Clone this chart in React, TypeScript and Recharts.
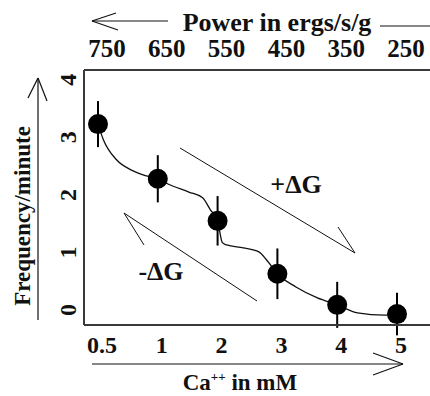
import { ComposedChart, Line, Scatter, ErrorBar, XAxis, YAxis } from 'recharts';

const calcium = ['0.5', '1', '2', '3', '4', '5'];
const power = ['750', '650', '550', '450', '350', '250'];
const frequency = [3.23, 2.28, 1.55, 0.63, 0.09, -0.07];
const frequencyErr = [0.4, 0.41, 0.43, 0.44, 0.4, 0.37];
const yTicks = [0, 1, 2, 3, 4];

// hand drawn curve through the points (x in category index units)
const curveX = [0, 0.09, 0.31, 0.56, 0.81, 1, 1.17, 1.52, 1.75, 1.88, 2, 2.08, 2.15, 2.43, 2.69, 2.82, 3, 3.31, 3.67, 4, 4.34, 4.79, 5];
const curveY = [3.23, 2.96, 2.61, 2.43, 2.33, 2.28, 2.19, 2.05, 1.95, 1.74, 1.55, 1.17, 1.13, 1.08, 1.01, 0.87, 0.63, 0.4, 0.21, 0.09, -0.05, -0.09, -0.07];

const points = calcium.map((_, i) => ({ x: i, y: frequency[i], err: frequencyErr[i] }));
const curve = curveX.map((x, i) => ({ x, y: curveY[i] }));

const FONT = '"Liberation Serif", "Times New Roman", serif';
const INK = '#111';
const AXIS = '#3a3a3a';

const BottomTick = ({ x, payload }: any) => (
  <text x={x + 4} y={353} textAnchor="middle" fontFamily={FONT} fontWeight="bold" fontSize={24} fill={INK}>
    {calcium[payload.value]}
  </text>
);

const TopTick = ({ x, payload }: any) => (
  <text x={x + 9} y={57} textAnchor="middle" fontFamily={FONT} fontWeight="bold" fontSize={25} fill={INK}>
    {power[payload.value]}
  </text>
);

const LeftTick = ({ y, payload }: any) => (
  <text
    x={76}
    y={y}
    transform={`rotate(-90, 76, ${y})`}
    textAnchor="middle"
    fontFamily={FONT}
    fontWeight="bold"
    fontSize={24}
    fill={INK}
  >
    {payload.value}
  </text>
);

const Dot = ({ cx, cy }: any) => <circle cx={cx} cy={cy} r={10} fill="#000" />;

export default function App() {
  return (
    <div style={{ position: 'absolute', left: 0, top: 0, width: 430, height: 396, background: '#fff' }}>
      <ComposedChart width={430} height={396} margin={{ top: 0, right: 0, bottom: 0, left: 0 }}>
        <XAxis
          xAxisId="top"
          orientation="top"
          type="number"
          dataKey="x"
          domain={[-0.234, 5.552]}
          ticks={[0, 1, 2, 3, 4, 5]}
          allowDataOverflow
          height={70}
          tick={<TopTick />}
          tickLine={false}
          axisLine={{ stroke: AXIS, strokeWidth: 2 }}
        />
        <XAxis
          type="number"
          dataKey="x"
          domain={[-0.234, 5.552]}
          ticks={[0, 1, 2, 3, 4, 5]}
          allowDataOverflow
          height={71}
          tick={<BottomTick />}
          tickLine={false}
          axisLine={{ stroke: AXIS, strokeWidth: 2 }}
        />
        <YAxis
          type="number"
          domain={[-0.26, 4.17]}
          ticks={yTicks}
          allowDataOverflow
          width={84}
          tick={<LeftTick />}
          tickLine={false}
          axisLine={{ stroke: AXIS, strokeWidth: 2 }}
        />
        <Line
          data={curve}
          dataKey="y"
          type="monotone"
          stroke={INK}
          strokeWidth={1.3}
          dot={false}
          activeDot={false}
          isAnimationActive={false}
        />
        <Scatter data={points} dataKey="y" shape={<Dot />} isAnimationActive={false}>
          <ErrorBar dataKey="err" direction="y" width={0} stroke="#000" strokeWidth={2} />
        </Scatter>
      </ComposedChart>

      <svg
        width={430}
        height={396}
        style={{ position: 'absolute', left: 0, top: 0, pointerEvents: 'none' }}
        fontFamily={FONT}
        fontWeight="bold"
        fill={INK}
      >
        {/* top title with arrow */}
        <text x={277} y={31} textAnchor="middle" fontSize={26}>Power in ergs/s/g</text>
        <g stroke={INK} strokeWidth={1.2} fill="none">
          <line x1={92} y1={21} x2={168} y2={21} />
          <line x1={92} y1={21} x2={116} y2={13} />
          <line x1={92} y1={21} x2={118} y2={30} />
          <line x1={380} y1={26} x2={430} y2={26} />
        </g>

        {/* y axis title with arrow */}
        <text x={30} y={216} transform="rotate(-90, 30, 216)" textAnchor="middle" fontSize={23}>
          Frequency/minute
        </text>
        <g stroke={INK} strokeWidth={1.2} fill="none">
          <line x1={38} y1={320} x2={38} y2={78} />
          <line x1={38} y1={78} x2={28} y2={98} />
          <line x1={38} y1={78} x2={47} y2={101} />
        </g>

        {/* x axis title with arrow */}
        <g stroke={INK} strokeWidth={1.2} fill="none">
          <line x1={92} y1={364} x2={403} y2={364} />
          <line x1={403} y1={364} x2={373} y2={353} />
          <line x1={403} y1={364} x2={373} y2={375} />
        </g>
        <text x={240} y={390} textAnchor="middle" fontSize={23}>
          Ca
          <tspan dy={-9} fontSize={13}>++</tspan>
          <tspan dy={9}> in mM</tspan>
        </text>

        {/* free energy arrows */}
        <g stroke={INK} strokeWidth={1} fill="none">
          <line x1={180} y1={148} x2={355} y2={253} />
          <line x1={338} y1={227} x2={355} y2={253} />
          <line x1={124} y1={213} x2={257} y2={301} />
          <line x1={124} y1={213} x2={144} y2={245} />
        </g>
        <text x={296} y={193} textAnchor="middle" fontSize={26}>+ΔG</text>
        <text x={161} y={280} textAnchor="middle" fontSize={26}>-ΔG</text>
      </svg>
    </div>
  );
}
